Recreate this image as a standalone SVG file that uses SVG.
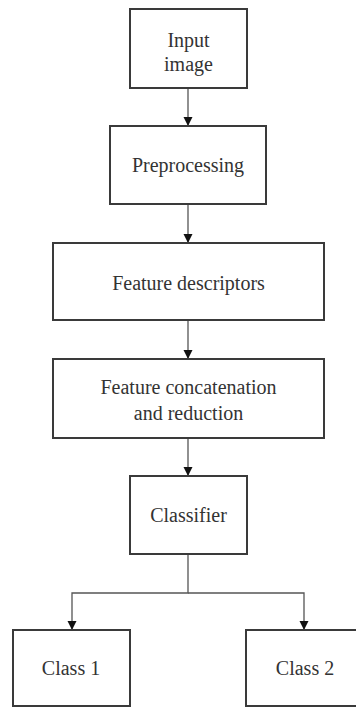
<svg xmlns="http://www.w3.org/2000/svg" width="356" height="708" viewBox="0 0 356 708">
  <style>
    .box { fill: #ffffff; stroke: #3a3a3a; stroke-width: 2; }
    .lbl { font-family: "Times New Roman", Times, "Liberation Serif", "DejaVu Serif", "Noto Serif", FreeSerif, serif; font-size: 20px; fill: #333333; text-anchor: middle; }
    .edge { fill: none; stroke: #555555; stroke-width: 1.3; }
  </style>
  <defs>
    <marker id="arr" viewBox="0 0 10 10" refX="10" refY="5" markerWidth="9" markerHeight="10" markerUnits="userSpaceOnUse" orient="auto">
      <path d="M0,0 L10,5 L0,10 Z" fill="#111111"/>
    </marker>
  </defs>
  <rect width="356" height="708" fill="#ffffff"/>
  <g id="connectors">
    <path class="edge" d="M188,88 V126" marker-end="url(#arr)"/>
    <path class="edge" d="M188,204 V243" marker-end="url(#arr)"/>
    <path class="edge" d="M188,320 V359" marker-end="url(#arr)"/>
    <path class="edge" d="M188,438 V476" marker-end="url(#arr)"/>
    <path class="edge" d="M188,554 V593 H72 V630" marker-end="url(#arr)"/>
    <path class="edge" d="M188,593 H304 V630" marker-end="url(#arr)"/>
  </g>
  <g id="input">
    <rect class="box" x="130" y="9" width="117" height="79"/>
    <text class="lbl" x="188.5" y="46.5">Input</text>
    <text class="lbl" x="188.5" y="71">image</text>
  </g>
  <g id="preprocessing">
    <rect class="box" x="110" y="126" width="156" height="78"/>
    <text class="lbl" x="188" y="171.5">Preprocessing</text>
  </g>
  <g id="descriptors">
    <rect class="box" x="53" y="243" width="271" height="77"/>
    <text class="lbl" x="188.5" y="290">Feature descriptors</text>
  </g>
  <g id="concatenation">
    <rect class="box" x="53" y="359" width="271" height="79"/>
    <text class="lbl" x="188.5" y="394">Feature concatenation</text>
    <text class="lbl" x="188.5" y="420">and reduction</text>
  </g>
  <g id="classifier">
    <rect class="box" x="130" y="476" width="117" height="78"/>
    <text class="lbl" x="188.5" y="522">Classifier</text>
  </g>
  <g id="class1">
    <rect class="box" x="13" y="630" width="117" height="76"/>
    <text class="lbl" x="71" y="675">Class 1</text>
  </g>
  <g id="class2">
    <rect class="box" x="246" y="630" width="117" height="76"/>
    <text class="lbl" x="305" y="675">Class 2</text>
  </g>
</svg>
